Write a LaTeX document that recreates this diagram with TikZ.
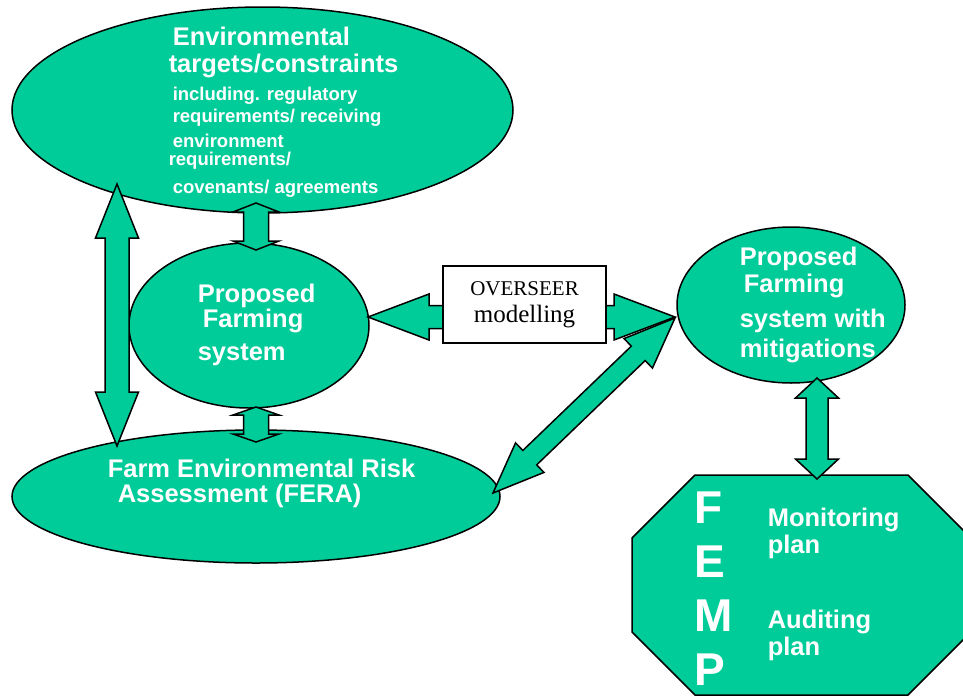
\documentclass[tikz,border=0pt]{standalone}
\usepackage{fontspec}
\setmainfont{Liberation Serif}
\setsansfont{Liberation Sans}
\usetikzlibrary{calc,positioning,shapes.geometric}
\definecolor{femgreen}{RGB}{0,204,153}
\tikzstyle{every path}+=[line width=1.5pt]
\tikzstyle{greenell}=[ellipse, draw, fill=femgreen, inner sep=0pt, line width=1.5pt]
\tikzstyle{blockarr}=[draw, fill=femgreen, line join=miter, line width=1.5pt]
\tikzstyle{bigtxt}=[text=white, font=\sffamily\bfseries\fontsize{25.5}{27}\selectfont, align=left, anchor=base west, inner sep=0pt]
\tikzstyle{smalltxt}=[bigtxt, font=\sffamily\bfseries\fontsize{18.5}{22}\selectfont]
\tikzstyle{femptxt}=[bigtxt, font=\sffamily\bfseries\fontsize{46}{54}\selectfont]

% double block arrow: from, to, head length, head half width, shaft half width
\newcommand{\dblarrow}[5]{%
  \draw[blockarr] (#1) -- ($(#1)!#3!(#2)!#4!90:(#2)$) -- ($(#1)!#3!(#2)!#5!90:(#2)$)
    -- ($(#2)!#3!(#1)!#5!-90:(#1)$) -- ($(#2)!#3!(#1)!#4!-90:(#1)$) -- (#2)
    -- ($(#2)!#3!(#1)!#4!90:(#1)$) -- ($(#2)!#3!(#1)!#5!90:(#1)$)
    -- ($(#1)!#3!(#2)!#5!-90:(#2)$) -- ($(#1)!#3!(#2)!#4!-90:(#2)$) -- cycle;}

\begin{document}
\begin{tikzpicture}[x=1pt,y=-1pt]
\useasboundingbox (0,0) rectangle (963,696);

\node[greenell, minimum width=501pt, minimum height=206pt] (targets) at (262.5,110) {};
\node[greenell, minimum width=240pt, minimum height=165pt] (farm) at (249,325.5) {};
\node[greenell, minimum width=488pt, minimum height=133pt] (fera) at (256,496.5) {};
\node[greenell, minimum width=228pt, minimum height=156pt] (mitig) at (791,305) {};

% FEMP octagon, cut by the right edge
\draw[blockarr] (695,475) -- (908,475) -- (971,538) -- (971,632) -- (908,695)
  -- (695,695) -- (632,632) -- (632,538) -- cycle;

\coordinate (l1) at (117,184);
\coordinate (l2) at (117,446);
\coordinate (t1) at (256,203);
\coordinate (t2) at (256,250);
\coordinate (b1) at (256,407);
\coordinate (b2) at (256,442);
\coordinate (h1) at (368,317);
\coordinate (h2) at (675,317);
\coordinate (d1) at (493,493);
\coordinate (d2) at (675,318);
\coordinate (r1) at (817,378);
\coordinate (r2) at (817,479);

\dblarrow{l1}{l2}{54pt}{21.5pt}{12pt}
\dblarrow{t1}{t2}{9pt}{23pt}{12.5pt}
\dblarrow{b1}{b2}{8pt}{23pt}{12.5pt}
\dblarrow{h1}{h2}{61pt}{23pt}{11.5pt}
\dblarrow{d1}{d2}{51pt}{20.5pt}{10pt}
\dblarrow{r1}{r2}{20pt}{21.5pt}{11pt}

\node[draw, fill=white, line width=1.5pt, minimum width=163pt, minimum height=77pt,
  font=\fontsize{21}{28}\selectfont, align=center] (overseer) at (524.5,304.5)
  {OVERSEER\\[-1pt]{\fontsize{25}{28}\selectfont modelling}};

% anchors sit on the baseline of the last line
\node[bigtxt] (envtitle) at (172,72) {Environmental\\\hspace*{-4pt}targets/constraints};
\node[smalltxt] (envsub) at (172,193) {including. regulatory\\requirements/ receiving\\[3pt]environment\\[-4pt]\hspace*{-4pt}requirements/\\[6pt]covenants/ agreements};
\node[bigtxt] (farmtxt) at (197,360) {Proposed\\[-2pt]\hspace*{5pt}Farming\\[6pt]system};
\node[bigtxt] (feratxt) at (107,502) {Farm Environmental Risk\\[-2pt]\hspace*{10pt}Assessment (FERA)};
\node[bigtxt] (mitigtxt) at (739,357) {Proposed\\\hspace*{4pt}Farming\\[8pt]system with\\[3pt]mitigations};
\node[femptxt] (femp) at (694,685) {F\\E\\M\\P};
\node[bigtxt] (monit) at (767,553) {Monitoring\\plan};
\node[bigtxt] (audit) at (767,655) {Auditing\\plan};
\end{tikzpicture}
\end{document}
